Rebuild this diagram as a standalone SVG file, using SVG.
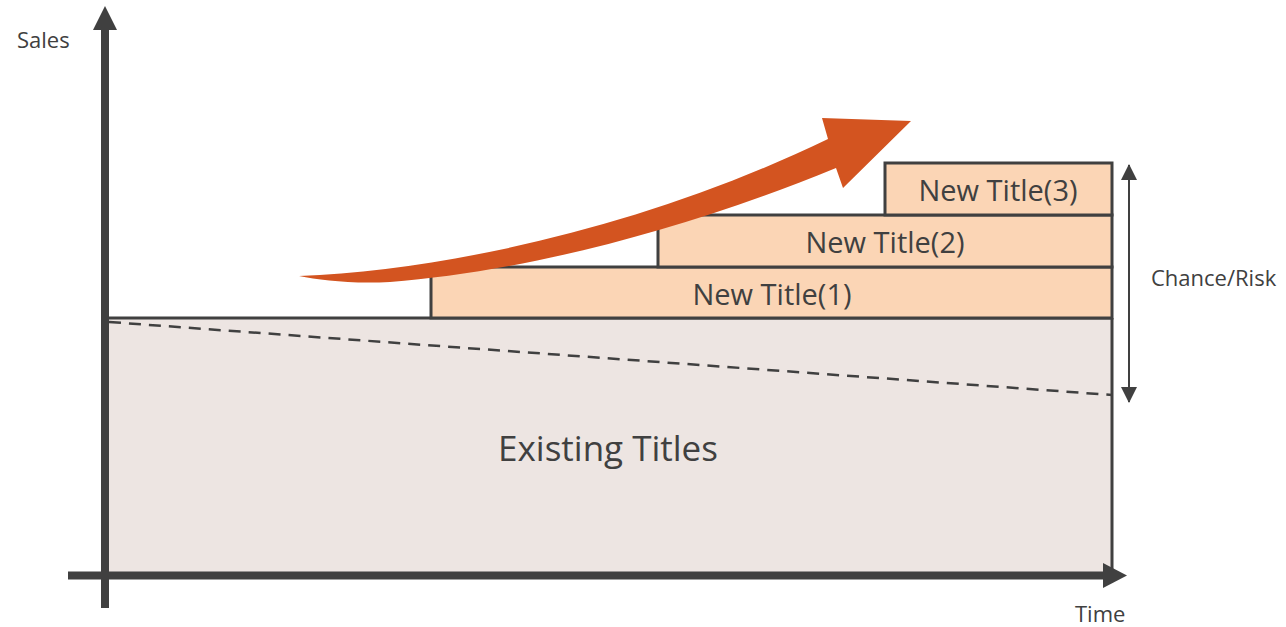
<svg xmlns="http://www.w3.org/2000/svg" width="1286" height="627" viewBox="0 0 1286 627">
  <style>
    .lbl { font-family: "Segoe UI", "Open Sans", "Noto Sans", sans-serif; fill: #404040; }
    .box { stroke: #404040; stroke-width: 3; }
    .new { fill: #FBD5B5; }
  </style>
  <defs>
    <marker id="dblHead" viewBox="0 0 16 16" refX="15" refY="8" markerWidth="16" markerHeight="16" markerUnits="userSpaceOnUse" orient="auto-start-reverse">
      <path d="M0,0 L16,8 L0,16 Z" fill="#404040"/>
    </marker>
  </defs>

  <rect width="1286" height="627" fill="#ffffff"/>

  <!-- existing titles area -->
  <g id="existing">
    <rect x="109" y="318" width="1003" height="257" fill="#EDE5E2"/>
    <line x1="109" y1="318" x2="1112" y2="318" class="box"/>
    <line x1="1112" y1="318" x2="1112" y2="575" class="box"/>
    <line x1="109" y1="322" x2="1112" y2="395" stroke="#404040" stroke-width="2.5" stroke-dasharray="12 8"/>
    <text class="lbl" x="608" y="461" font-size="35" text-anchor="middle">Existing Titles</text>
  </g>

  <!-- new title layers -->
  <g id="new1">
    <rect x="431" y="267" width="681" height="51" class="box new"/>
    <text class="lbl" x="772" y="305" font-size="29" text-anchor="middle">New Title(1)</text>
  </g>
  <g id="new2">
    <rect x="658" y="215" width="454" height="52" class="box new"/>
    <text class="lbl" x="885" y="253" font-size="29" text-anchor="middle">New Title(2)</text>
  </g>
  <g id="new3">
    <rect x="885" y="163" width="227" height="52" class="box new"/>
    <text class="lbl" x="998" y="201" font-size="29" text-anchor="middle">New Title(3)</text>
  </g>

  <!-- growth arrow -->
  <g id="growth">
    <path d="M299,276 C450,270 650,225 828,139 L822,118 L911,121 L843,188 L836,168 C680,232 520,272 390,282 C350,284 320,280 299,276 Z" fill="#D35420"/>
  </g>

  <!-- axes and range indicator -->
  <g id="connectors">
    <line x1="105" y1="608" x2="105" y2="28" stroke="#404040" stroke-width="8"/>
    <path d="M93,30 L105,6 L117,30 Z" fill="#404040"/>
    <line x1="68" y1="575.5" x2="1105" y2="575.5" stroke="#404040" stroke-width="8"/>
    <path d="M1103,563 L1127,575.5 L1103,588 Z" fill="#404040"/>
    <line x1="1129" y1="165" x2="1129" y2="402" stroke="#404040" stroke-width="2" marker-start="url(#dblHead)" marker-end="url(#dblHead)"/>
  </g>

  <g id="axis-labels">
    <text class="lbl" x="17" y="48" font-size="22">Sales</text>
    <text class="lbl" x="1075" y="622" font-size="22">Time</text>
    <text class="lbl" x="1151" y="286" font-size="22">Chance/Risk</text>
  </g>
</svg>
